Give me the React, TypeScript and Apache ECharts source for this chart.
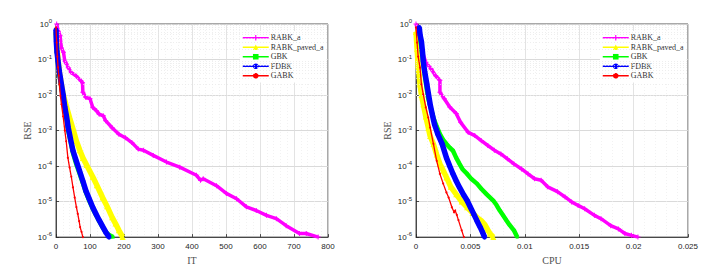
import React, { useEffect, useRef } from 'react';
import * as echarts from 'echarts';

const seriesNames = ['RABK_a', 'RABK_paved_a', 'GBK', 'FDBK', 'GABK'];
const itTicks = [0, 100, 200, 300, 400, 500, 600, 700, 800];
const cpuTicks = [0, 0.005, 0.01, 0.015, 0.02, 0.025];

// ---- IT panel (x = iterations, y = RSE) ----
const rabkA_IT: [number, number][] = [
  [2, 1.0], [7, 0.63], [12, 0.47], [16, 0.21], [22, 0.16], [26, 0.089], [31, 0.076], [36, 0.059],
  [45, 0.043], [60, 0.034], [74, 0.025], [78, 0.022], [79, 0.012], [88, 0.0085], [100, 0.0079],
  [108, 0.0045], [119, 0.0036], [127, 0.0029], [139, 0.0026], [146, 0.0019], [165, 0.0012],
  [185, 0.00079], [204, 0.00063], [223, 0.00046], [242, 0.0003], [257, 0.00028], [286, 0.0002],
  [325, 0.00013], [364, 0.000093], [413, 0.000055], [425, 0.00004], [433, 0.000044], [472, 0.000028],
  [501, 0.000017], [531, 0.000012], [560, 0.0000071], [589, 0.0000056], [619, 0.0000041],
  [648, 0.0000033], [677, 0.0000021], [716, 0.00000126], [736, 0.00000126], [771, 0.000001],
];
const paved_IT: [number, number][] = [
  [0, 0.6], [3, 0.25], [6, 0.1], [10, 0.045], [16, 0.02], [21, 0.0105], [30, 0.005], [40, 0.0023],
  [50, 0.0011], [60, 0.00051], [70, 0.00028], [79, 0.00017], [90, 0.000107], [108, 0.00005],
  [120, 0.000029], [137, 0.000013], [150, 0.0000074], [165, 0.0000036], [175, 0.0000024],
  [185, 0.00000155], [196, 0.000001],
];
const gbk_IT: [number, number][] = [
  [0, 0.63], [1, 0.32], [3, 0.16], [6, 0.079], [10, 0.04], [16, 0.016], [21, 0.008], [26, 0.004],
  [31, 0.002], [36, 0.001], [43, 0.00048], [50, 0.00023], [60, 0.00011], [69, 0.000063],
  [79, 0.000033], [88, 0.000018], [98, 0.0000105], [108, 0.0000063], [118, 0.0000041],
  [127, 0.0000028], [137, 0.0000019], [146, 0.0000014], [156, 0.00000115], [168, 0.000001],
];
const fdbk_IT: [number, number][] = [
  [0, 0.69], [1, 0.32], [3, 0.16], [6, 0.089], [10, 0.045], [13, 0.03], [16, 0.02], [21, 0.01],
  [26, 0.0045], [31, 0.0025], [36, 0.0012], [43, 0.00056], [50, 0.00027], [60, 0.000135],
  [69, 0.000074], [79, 0.000038], [88, 0.00002], [98, 0.0000117], [108, 0.0000069],
  [118, 0.0000044], [127, 0.000003], [137, 0.000002], [146, 0.0000014], [156, 0.000001],
];
const gabk_IT: [number, number][] = [
  [0, 0.8], [2, 0.3], [4, 0.12], [6, 0.06], [8, 0.035], [10, 0.02], [13, 0.0095], [16, 0.0055],
  [21, 0.0025], [26, 0.001], [30, 0.0005], [35, 0.00017], [40, 0.00009], [45, 0.00005],
  [50, 0.000025], [55, 0.000013], [60, 0.000007], [64, 0.0000045], [68, 0.0000028],
  [71, 0.0000019], [75, 0.0000014], [79, 0.000001],
];

// ---- CPU panel (x = seconds, y = RSE) ----
const rabkA_CPU: [number, number][] = [
  [0, 1.0], [0.0003, 0.47], [0.0006, 0.16], [0.0009, 0.083], [0.0014, 0.054], [0.0018, 0.035],
  [0.0022, 0.026], [0.0022, 0.012], [0.0026, 0.0079], [0.0031, 0.0046], [0.0037, 0.003],
  [0.0041, 0.0017], [0.0048, 0.00089], [0.0054, 0.00072], [0.006, 0.00052], [0.0066, 0.00038],
  [0.0072, 0.00028], [0.0078, 0.00022], [0.0084, 0.00016], [0.009, 0.000115], [0.0097, 0.000083],
  [0.0103, 0.00006], [0.0109, 0.000044], [0.0115, 0.00004], [0.0121, 0.000026], [0.013, 0.000019],
  [0.0137, 0.0000135], [0.0143, 0.0000098], [0.0149, 0.0000078], [0.0155, 0.0000063],
  [0.0164, 0.0000041], [0.017, 0.0000033], [0.0179, 0.0000021], [0.0186, 0.0000017],
  [0.0192, 0.00000126], [0.0198, 0.00000112], [0.0204, 0.000001],
];
const paved_CPU: [number, number][] = [
  [0, 0.6], [0.0001, 0.2], [0.0002, 0.07], [0.00037, 0.02], [0.0005, 0.01], [0.00067, 0.0055],
  [0.0009, 0.0025], [0.00113, 0.0012], [0.0013, 0.0007], [0.0016, 0.00042], [0.0019, 0.00021],
  [0.0022, 0.000115], [0.0025, 0.000075], [0.0028, 0.000048], [0.0032, 0.000026],
  [0.0037, 0.000016], [0.0042, 0.00001], [0.0047, 0.0000069], [0.0052, 0.0000048],
  [0.0056, 0.0000036], [0.006, 0.0000029], [0.0063, 0.0000023], [0.0066, 0.0000016],
  [0.0068, 0.00000126], [0.0071, 0.000001],
];
const gbk_CPU: [number, number][] = [
  [0.0003, 0.8], [0.00037, 0.45], [0.0005, 0.2], [0.00065, 0.089], [0.00083, 0.032],
  [0.0011, 0.0085], [0.0013, 0.005], [0.0016, 0.0023], [0.0019, 0.0013], [0.0022, 0.00079],
  [0.0025, 0.00055], [0.0028, 0.00042], [0.0031, 0.00033], [0.0034, 0.00027], [0.0037, 0.00017],
  [0.004, 0.000115], [0.0043, 0.00008], [0.0047, 0.00006], [0.0051, 0.000043], [0.0056, 0.000032],
  [0.006, 0.000023], [0.0065, 0.000016], [0.0071, 0.0000107], [0.0074, 0.000008],
  [0.0077, 0.0000056], [0.008, 0.0000041], [0.0083, 0.000003], [0.0086, 0.0000022],
  [0.009, 0.00000155], [0.0093, 0.000001],
];
const fdbk_CPU: [number, number][] = [
  [0.0003, 0.8], [0.00037, 0.5], [0.0005, 0.32], [0.0006, 0.16], [0.00067, 0.089], [0.0008, 0.045],
  [0.001, 0.02], [0.0013, 0.0055], [0.0015, 0.0028], [0.0017, 0.0015], [0.002, 0.0008],
  [0.0024, 0.00042], [0.0028, 0.00017], [0.0031, 0.0001], [0.0034, 0.00006], [0.0037, 0.000038],
  [0.004, 0.000025], [0.0044, 0.000015], [0.0047, 0.0000107], [0.005, 0.0000069],
  [0.0053, 0.0000045], [0.0056, 0.0000029], [0.0059, 0.0000019], [0.0061, 0.0000014],
  [0.0063, 0.000001],
];
const gabk_CPU: [number, number][] = [
  [0, 0.8], [0.0001, 0.3], [0.0002, 0.12], [0.00037, 0.059], [0.0005, 0.02], [0.00067, 0.0105],
  [0.0009, 0.0045], [0.00113, 0.0023], [0.0013, 0.0012], [0.0016, 0.00042], [0.0019, 0.00014],
  [0.0022, 0.00006], [0.0025, 0.000032], [0.0028, 0.000018], [0.003, 0.000013],
  [0.0033, 0.0000069], [0.0035, 0.000005], [0.0036, 0.0000056], [0.00375, 0.0000042],
  [0.0039, 0.000003], [0.0042, 0.00000155], [0.0044, 0.000001],
];

const itData = [rabkA_IT, paved_IT, gbk_IT, fdbk_IT, gabk_IT];
const cpuData = [rabkA_CPU, paved_CPU, gbk_CPU, fdbk_CPU, gabk_CPU];

const styles = [
  { color: '#ff00ff', width: 3.5, symbol: 'path://M4,0H6V4H10V6H6V10H4V6H0V4H4Z', size: 5, fill: '#ff00ff', border: 0 },
  { color: '#ffff00', width: 5.5, symbol: 'triangle', size: 6, fill: '#ffff00', border: 0 },
  { color: '#00ff00', width: 4.5, symbol: 'rect', size: 3, fill: '#00ff00', border: 0 },
  { color: '#0000ff', width: 5.5, symbol: 'circle', size: 5, fill: '#0000ff', border: 0 },
  { color: '#ff0000', width: 1.3, symbol: 'circle', size: 2, fill: '#ff0000', border: 0 },
];

// minor grid positions for log axis (2..9 x 10^k)
const minorLog: number[] = [];
for (let e = -6; e < 0; e++) for (let m = 2; m <= 9; m++) minorLog.push(Number((m * Math.pow(10, e)).toPrecision(3)));

const GRID_TOP = 24;
const GRID_H = 214;
const GRID_W = 272;
const LEFTS = [56, 416];

export default function App() {
  const ref = useRef<HTMLDivElement>(null);
  useEffect(() => {
    if (!ref.current) return;
    const chart = echarts.init(ref.current, undefined, { renderer: 'svg' });
    const tickFont = { fontFamily: 'Liberation Sans', fontSize: 8, color: '#262626' };
    const nameFont = { fontFamily: 'Liberation Serif', fontSize: 10, color: '#505050' };
    const xAxes = [0, 1].map((i) => ({
      type: 'value',
      gridIndex: i,
      min: 0,
      max: i === 0 ? itTicks[itTicks.length - 1] : cpuTicks[cpuTicks.length - 1],
      interval: i === 0 ? itTicks[1] - itTicks[0] : cpuTicks[1] - cpuTicks[0],
      name: i === 0 ? 'IT' : 'CPU',
      nameLocation: 'middle',
      nameGap: 13,
      nameTextStyle: nameFont,
      axisLine: { show: true, lineStyle: { color: '#262626', width: 0.8 } },
      axisTick: { show: true, inside: true, length: 3, lineStyle: { color: '#262626', width: 0.8 } },
      axisLabel: { ...tickFont, margin: 5, formatter: (v: number) => String(Number(v.toPrecision(6))) },
      splitLine: { show: true, lineStyle: { color: '#dcdcdc', width: 0.8 } },
      minorTick: { show: false, splitNumber: 5 },
      minorSplitLine: { show: true, lineStyle: { color: '#ececec', width: 0.7, type: [1, 2] } },
    }));
    const yAxes = [0, 1].map((i) => ({
      type: 'log',
      gridIndex: i,
      logBase: 10,
      min: 1e-6,
      max: 1,
      name: 'RSE',
      nameLocation: 'middle',
      nameGap: 24,
      nameTextStyle: nameFont,
      axisLine: { show: true, lineStyle: { color: '#262626', width: 0.8 } },
      axisTick: { show: true, inside: true, length: 3, lineStyle: { color: '#262626', width: 0.8 } },
      axisLabel: {
        ...tickFont,
        margin: 4,
        formatter: (v: number) => `10{e|${Math.round(Math.log10(v))}}`,
        rich: { e: { fontFamily: 'Liberation Sans', fontSize: 6, color: '#262626', padding: [0, 0, 6, 0] } },
      },
      splitLine: { show: true, lineStyle: { color: '#d6d6d6', width: 0.9 } },
    }));
    const series: any[] = [];
    [itData, cpuData].forEach((set, gi) => {
      series.push({
        type: 'line',
        xAxisIndex: gi,
        yAxisIndex: gi,
        data: [],
        silent: true,
        z: 1,
        markLine: {
          silent: true,
          symbol: ['none', 'none'],
          label: { show: false },
          lineStyle: { color: '#e6e6e6', width: 0.7, type: [1, 2] },
          data: minorLog.map((v) => ({ yAxis: v })),
        },
      });
      set.forEach((d, si) => {
        const s = styles[si];
        series.push({
          type: 'line',
          name: seriesNames[si],
          xAxisIndex: gi,
          yAxisIndex: gi,
          data: d,
          symbol: s.symbol,
          symbolSize: s.size,
          showSymbol: true,
          showAllSymbol: true,
          lineStyle: { color: s.color, width: s.width },
          itemStyle: { color: s.fill, borderColor: s.color, borderWidth: s.border },
          z: 2 + si,
        });
      });
    });
    const legends = [0, 1].map((i) => ({
      orient: 'vertical',
      left: LEFTS[i] + 184,
      top: GRID_TOP + 7,
      data: seriesNames,
      itemWidth: 26,
      itemHeight: 7,
      itemGap: 0,
      padding: [2, 3, 2, 2],
      backgroundColor: '#ffffff',
      selectedMode: false,
      lineStyle: { width: 1.5 },
      textStyle: { fontFamily: 'Liberation Serif', fontSize: 8, color: '#303030', lineHeight: 9.5, padding: [0, 0, 0, -3] },
    }));
    chart.setOption({
      animation: false,
      backgroundColor: '#ffffff',
      grid: LEFTS.map((l) => ({
        left: l,
        top: GRID_TOP,
        width: GRID_W,
        height: GRID_H,
        show: true,
        borderColor: '#262626',
        borderWidth: 0.8,
      })),
      xAxis: xAxes,
      yAxis: yAxes,
      legend: legends,
      series,
    });
    return () => chart.dispose();
  }, []);
  return <div ref={ref} style={{ position: 'absolute', left: 0, top: 0, width: 722, height: 270 }} />;
}
